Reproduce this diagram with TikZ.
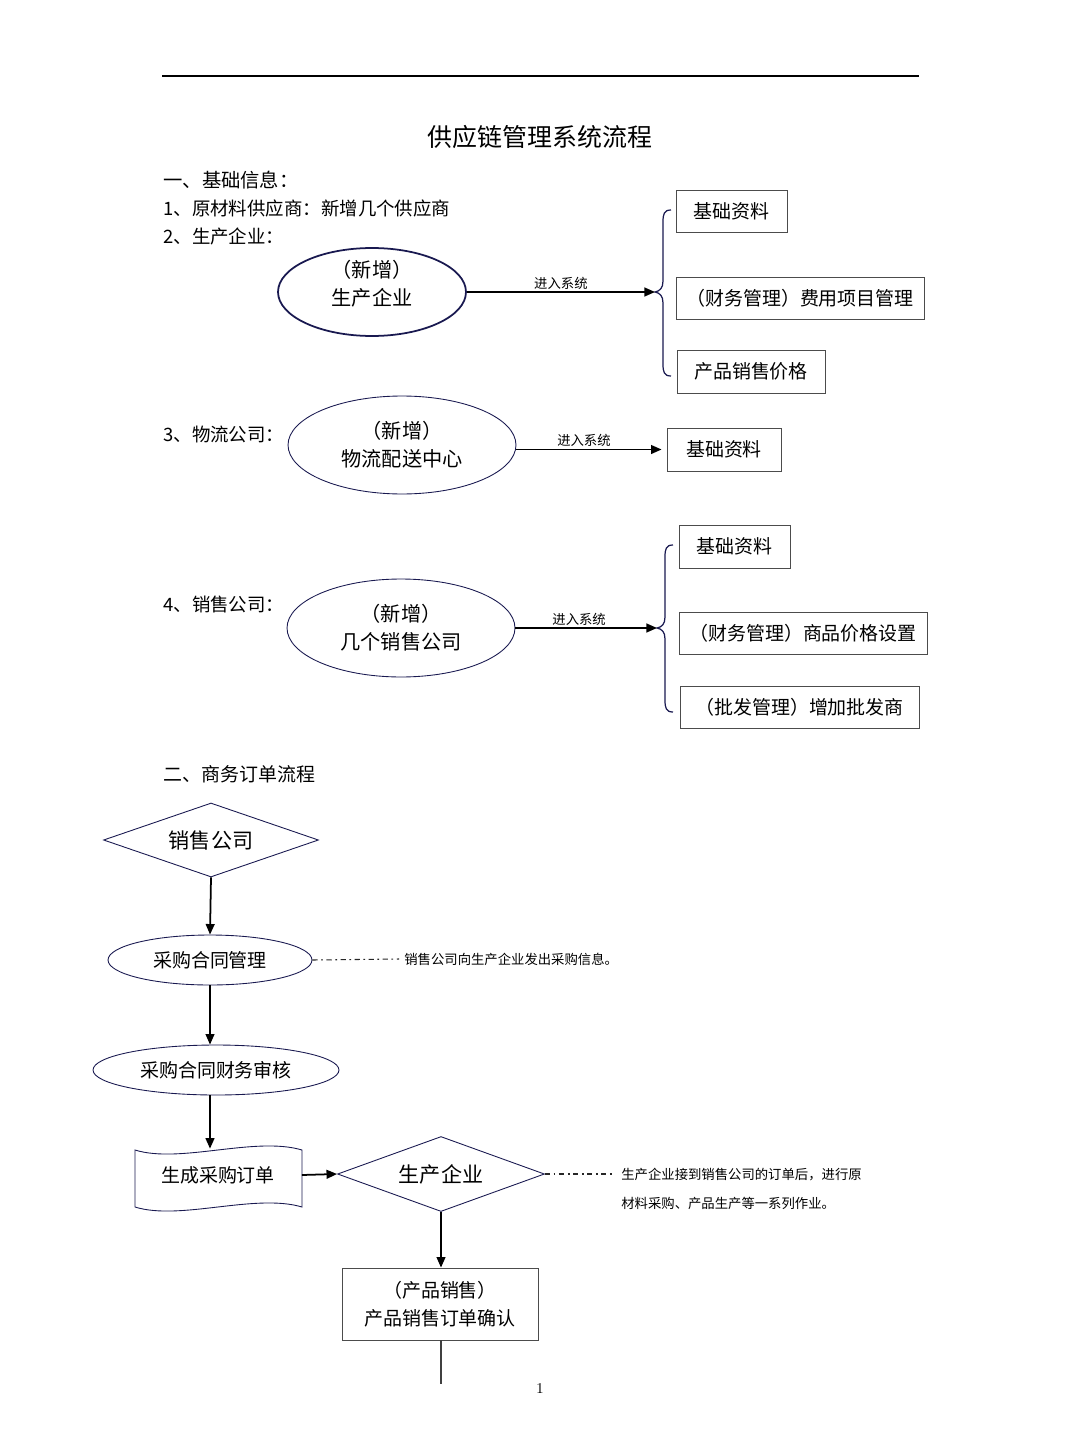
\documentclass[tikz,border=0pt]{standalone}
\usepackage{fontspec}
\newfontfamily\cjk{Noto Sans CJK SC}
\usetikzlibrary{shapes.geometric, arrows.meta}

\definecolor{navy}{RGB}{25,25,80}

\begin{document}
\begin{tikzpicture}[x=0.02cm, y=-0.02cm,
  txt/.style={font=\cjk\fontsize{10.5}{16}\selectfont, inner sep=0, anchor=west},
  infobox/.style={draw=black!70, line width=0.5pt, font=\cjk\fontsize{10.8}{16}\selectfont, inner sep=0, minimum height=0.84cm},
  entity/.style={ellipse, draw=navy, line width=0.5pt, font=\cjk\fontsize{11.5}{16}\selectfont, align=center, inner sep=0},
  flowell/.style={ellipse, draw=navy, line width=0.5pt, font=\cjk\fontsize{10.8}{16}\selectfont, inner sep=0, minimum height=1cm},
  decision/.style={diamond, draw=navy, line width=0.5pt, font=\cjk\fontsize{12}{16}\selectfont, inner sep=0},
  arr/.style={-{Triangle[length=6pt,width=5pt]}, line width=1pt},
  brace/.style={draw=navy, line width=0.7pt},
  note/.style={font=\cjk\fontsize{7.6}{10}\selectfont, inner sep=0, anchor=west},
  dashdot/.style={draw=black!85, line width=0.6pt, dash pattern=on 3pt off 2pt on 1pt off 2pt}
]
\useasboundingbox (0,0) rectangle (1080,1439);

% header
\draw[line width=0.8pt] (162,76) -- (919,76);
\node[font=\cjk\fontsize{14.2}{18}\selectfont] (title) at (540,137) {供应链管理系统流程};

% part one
\node[txt, font=\cjk\fontsize{11}{16}\selectfont] (h1) at (163,180) {一、基础信息：};
\node[txt] (l1) at (163,208) {1、原材料供应商：新增几个供应商};
\node[txt] (l2) at (163,236) {2、生产企业：};
\node[txt] (l3) at (163,434) {3、物流公司：};
\node[txt] (l4) at (163,604) {4、销售公司：};

% production company
\node[entity, line width=1pt, minimum width=3.76cm, minimum height=1.76cm] (prod) at (372,292) {};
\node[entity, draw=none] (prodtxt) at (372,284) {（新增）\\生产企业};
\coordinate (tip1) at (655,292);
\draw[brace] (671,210) .. controls (664,210) and (663,214) .. (663,222) -- (663,281)
  .. controls (663,288) and (660,291) .. (tip1) .. controls (660,293) and (663,296) .. (663,303)
  -- (663,364) .. controls (663,372) and (664,376) .. (671,376);
\draw[arr] (prod.east) -- (tip1) node[midway, above=1pt, note, anchor=south] {进入系统};
\node[infobox, minimum width=2.22cm] (p1) at (731.5,211) {基础资料};
\node[infobox, minimum width=4.96cm] (p2) at (800,298) {（财务管理）费用项目管理};
\node[infobox, minimum width=2.96cm, minimum height=0.86cm] (p3) at (751,371.5) {产品销售价格};

% logistics company
\node[entity, minimum width=4.56cm, minimum height=1.96cm] (logi) at (402,445) {（新增）\\物流配送中心};
\node[infobox, minimum width=2.28cm, minimum height=0.86cm] (g1) at (724,449.5) {基础资料};
\draw[arr, shorten >=0.1cm] (logi.east |- g1.west) -- (g1.west) node[pos=0.45, above=1pt, note, anchor=south] {进入系统};

% sales company
\node[entity, minimum width=4.56cm, minimum height=1.96cm] (sale) at (401,628) {（新增）\\几个销售公司};
\coordinate (tip2) at (657,628);
\draw[brace] (673,545) .. controls (666,545) and (665,549) .. (665,557) -- (665,617)
  .. controls (665,624) and (662,627) .. (tip2) .. controls (662,629) and (665,632) .. (665,639)
  -- (665,700) .. controls (665,708) and (666,712) .. (673,712);
\draw[arr] (sale.east) -- (tip2) node[pos=0.45, above=1pt, note, anchor=south] {进入系统};
\node[infobox, minimum width=2.22cm, minimum height=0.86cm] (s1) at (734.5,546.5) {基础资料};
\node[infobox, minimum width=4.96cm] (s2) at (803,633) {（财务管理）商品价格设置};
\node[infobox, minimum width=4.78cm] (s3) at (799.5,707) {（批发管理）增加批发商};

% part two
\node[txt, font=\cjk\fontsize{10.8}{16}\selectfont] (h2) at (163,774) {二、商务订单流程};

\node[decision, aspect=2.9, minimum width=4.3cm, minimum height=1.48cm] (dsale) at (211,840) {销售公司};
\node[flowell, minimum width=4.08cm] (contract) at (210,960) {采购合同管理};
\node[flowell, minimum width=4.92cm] (audit) at (216,1070) {采购合同财务审核};
\node[note, inner sep=0.1cm] (note1) at (399,959) {销售公司向生产企业发出采购信息。};

% purchase order (tape shape)
\draw[draw=navy, line width=0.5pt] (135,1150) .. controls (180,1164) and (255,1136) .. (302,1150)
  -- (302,1207) .. controls (255,1193) and (180,1221) .. (135,1207) -- cycle;
\node[font=\cjk\fontsize{10.8}{16}\selectfont, inner sep=0, minimum width=3.34cm, minimum height=1.04cm] (order) at (218,1175) {生成采购订单};

\node[decision, aspect=2.76, minimum width=4.14cm, minimum height=1.5cm] (dprod) at (441,1174) {生产企业};
\node[note] (note2) at (621,1175) {生产企业接到销售公司的订单后，进行原};
\node[note] (note3) at (621,1203) {材料采购、产品生产等一系列作业。};
\node[infobox, minimum width=3.92cm, minimum height=1.44cm, align=center] (confirm) at (440,1304) {（产品销售）\\产品销售订单确认};
\coordinate (tail) at (441,1384);

% connectors
\draw[arr] (dsale.south) -- (contract.north);
\draw[dashdot] (contract.east) -- (note1.west);
\draw[arr] (contract.south) -- (contract.south |- audit.north);
\draw[arr] (contract.south |- audit.south) -- (contract.south |- order.north);
\draw[arr] (order.east) -- (dprod.west);
\draw[dashdot] (dprod.east) -- ++(67,0);
\draw[arr] (dprod.south) -- (confirm.north -| dprod.south);
\draw[line width=1pt, black!75] (confirm.south -| dprod.south) -- (tail);

% page number
\node[font=\fontsize{8.5}{10}\selectfont] (page) at (540,1389) {1};
\end{tikzpicture}
\end{document}
